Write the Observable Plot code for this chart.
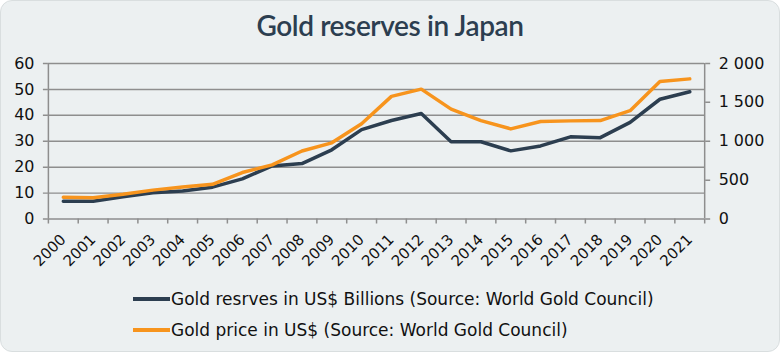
<!DOCTYPE html>
<html><head><meta charset="utf-8">
<script src="https://cdn.jsdelivr.net/npm/d3@7"></script>
<script src="https://cdn.jsdelivr.net/npm/@observablehq/plot@0.6"></script>
<style>
html,body{margin:0;padding:0;background:#fff;}
#card{position:relative;width:778px;height:350px;background:#ECF0F1;border:1px solid #d9dedf;border-radius:12px;overflow:hidden;font-family:"DejaVu Sans",sans-serif;color:#111;}
#title{position:absolute;top:7px;left:0;width:100%;text-align:center;font-family:Lato,sans-serif;font-weight:600;font-size:28px;color:#2C3E50;letter-spacing:-0.4px;}
#chart{position:absolute;left:0;top:49px;}
.leg{position:absolute;left:132px;font-size:17px;display:flex;align-items:center;white-space:nowrap;height:20px;}
.sw{width:37px;height:4px;margin-right:1px;}
</style></head>
<body>
<div id="card">
  <div id="title">Gold reserves in Japan</div>
  <div id="chart"></div>
  <div class="leg" style="top:288px"><div class="sw" style="background:#2C3E50"></div><span id="l1"></span></div>
  <div class="leg" style="top:319px"><div class="sw" style="background:#F7941D"></div><span id="l2"></span></div>
</div>
<script>
const years = ["2000","2001","2002","2003","2004","2005","2006","2007","2008","2009","2010","2011","2012","2013","2014","2015","2016","2017","2018","2019","2020","2021"];
const reserves = [6.9, 6.9, 8.6, 10.1, 10.8, 12.3, 15.5, 20.5, 21.4, 26.7, 34.5, 38.0, 40.7, 29.8, 29.8, 26.3, 28.2, 31.7, 31.4, 37.3, 46.2, 49.1];
const price = [280, 274, 318, 372, 412, 447, 598, 697, 875, 980, 1225, 1577, 1670, 1413, 1266, 1159, 1254, 1262, 1266, 1393, 1769, 1802];
const leftTicks = [0, 10, 20, 30, 40, 50, 60];
const rightTicks = [0, 500, 1000, 1500, 2000];
const seriesNames = ["Gold resrves in US$ Billions (Source: World Gold Council)", "Gold price in US$ (Source: World Gold Council)"];

document.getElementById("l1").textContent = seriesNames[0];
document.getElementById("l2").textContent = seriesNames[1];

const k = 60 / 2000;
const data = years.map((y, i) => ({year: y, i, reserves: reserves[i], price: price[i]}));
const grid = "#8e8e8e";
const fmt = v => d3.format(",")(Math.round(v)).replace(/,/g, " ");

const chart = Plot.plot({
  width: 780, height: 234,
  marginLeft: 47, marginRight: 75, marginTop: 13, marginBottom: 65,
  x: {type: "linear", domain: [0, years.length], axis: null},
  y: {domain: [0, 60], axis: null},
  style: {fontFamily: "'DejaVu Sans', sans-serif", fontSize: "15px", color: "#111", background: "transparent", overflow: "visible"},
  marks: [
    Plot.gridY(leftTicks, {stroke: grid, strokeOpacity: 1, strokeWidth: 1.5}),
    Plot.ruleX([0, years.length], {y1: 0, y2: 60, stroke: grid, strokeWidth: 1.5}),
    Plot.axisY(leftTicks, {anchor: "left", label: null, tickSize: 5, tickPadding: 9, stroke: grid, strokeWidth: 1.5, strokeOpacity: 1, fill: "#111", fontSize: 16}),
    Plot.axisY(rightTicks.map(v => v * k), {anchor: "right", label: null, tickSize: 5, tickPadding: 9, stroke: grid, strokeWidth: 1.5, strokeOpacity: 1, fill: "#111", fontSize: 16, tickFormat: v => fmt(v / k)}),
    Plot.axisX(d3.range(years.length + 1), {anchor: "bottom", label: null, tickSize: 5, stroke: grid, strokeWidth: 1.5, strokeOpacity: 1, tickFormat: () => ""}),
    Plot.axisX(years.map((y, i) => i + 0.5), {anchor: "bottom", label: null, tickSize: 0, tickPadding: 18, tickRotate: -45, fill: "#111", fontSize: 15, tickFormat: v => years[Math.floor(v)]}),
    Plot.lineY(data, {x: d => d.i + 0.5, y: "reserves", stroke: "#2C3E50", strokeWidth: 3.5}),
    Plot.lineY(data, {x: d => d.i + 0.5, y: d => d.price * k, stroke: "#F7941D", strokeWidth: 3.5})
  ]
});
document.getElementById("chart").appendChild(chart);
</script>
</body></html>
